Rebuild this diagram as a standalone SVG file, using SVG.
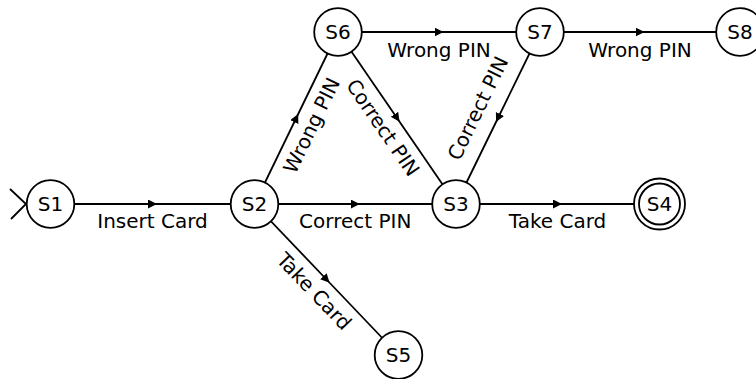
<svg xmlns="http://www.w3.org/2000/svg" width="756" height="379" viewBox="0 0 756 379">
<style>
.edge{fill:none;stroke:#000;stroke-width:1.8;marker-mid:url(#arr)}
.node circle{fill:#fff;stroke:#000;stroke-width:1.8}
text{font-family:"DejaVu Sans",sans-serif;font-size:20px;fill:#000;text-anchor:middle}
</style>
<defs>
<marker id="arr" markerUnits="userSpaceOnUse" markerWidth="10" markerHeight="10" refX="4.5" refY="4.5" orient="auto" viewBox="0 0 10 10">
<path d="M0,0 L9,4.5 L0,9 z" fill="#000"/>
</marker>
</defs>
<rect width="756" height="379" fill="#fff"/>
<g id="connectors">
<path d="M10,189 L26,204 L11,219" fill="none" stroke="#000" stroke-width="1.8"/>
<path class="edge" d="M50.5,204 L152.5,204 L254.5,204"/>
<path class="edge" d="M254.5,204 L355.25,204 L456,204"/>
<path class="edge" d="M456,204 L557.5,204 L659.5,204"/>
<path class="edge" d="M254.5,204 L296.25,118 L338,32"/>
<path class="edge" d="M338,32 L397,118 L456,204"/>
<path class="edge" d="M338,32 L439,32 L540,32"/>
<path class="edge" d="M540,32 L640,32 L740,32"/>
<path class="edge" d="M540,32 L498,118 L456,204"/>
<path class="edge" d="M254.5,204 L326.5,279.5 L398.5,355"/>
<text x="152.5" y="228">Insert Card</text>
<text x="355.25" y="228">Correct PIN</text>
<text x="557.5" y="228">Take Card</text>
<text x="439" y="56.5">Wrong PIN</text>
<text x="640" y="56.5">Wrong PIN</text>
<text transform="translate(317.85,128.5) rotate(-64.1)">Wrong PIN</text>
<text transform="translate(377.2,131.6) rotate(55.55)">Correct PIN</text>
<text transform="translate(484.1,111.2) rotate(-63.97)">Correct PIN</text>
<text transform="translate(309.1,296.1) rotate(46.36)">Take Card</text>
</g>
<g id="S1" class="node"><circle cx="50.5" cy="204" r="23.8"/><text x="50.5" y="211.3">S1</text></g>
<g id="S2" class="node"><circle cx="254.5" cy="204" r="23.8"/><text x="254.5" y="211.3">S2</text></g>
<g id="S3" class="node"><circle cx="456" cy="204" r="23.8"/><text x="456" y="211.3">S3</text></g>
<g id="S4" class="node"><circle cx="659.5" cy="204" r="25.5"/><circle cx="659.5" cy="204" r="20.5"/><text x="659.5" y="211.3">S4</text></g>
<g id="S5" class="node"><circle cx="398.5" cy="355" r="23.8"/><text x="398.5" y="362.3">S5</text></g>
<g id="S6" class="node"><circle cx="338" cy="32" r="23.8"/><text x="338" y="39.3">S6</text></g>
<g id="S7" class="node"><circle cx="540" cy="32" r="23.8"/><text x="540" y="39.3">S7</text></g>
<g id="S8" class="node"><circle cx="740" cy="32" r="23.8"/><text x="740" y="39.3">S8</text></g>
</svg>
